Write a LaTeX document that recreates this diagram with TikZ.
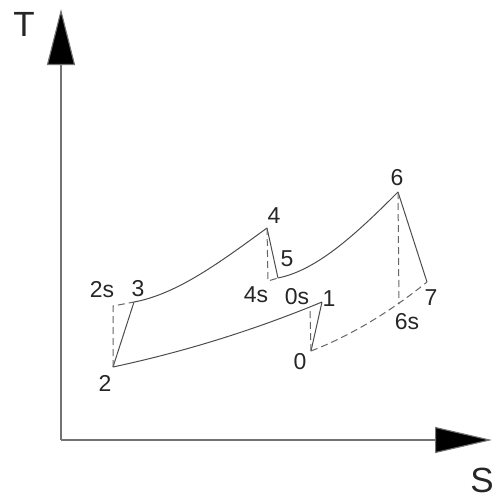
\documentclass[tikz,border=0pt]{standalone}
\usepackage{fontspec}
\setmainfont{Liberation Sans}
\usetikzlibrary{arrows.meta}
\begin{document}
\begin{tikzpicture}[x=1pt,y=-1pt,
  axis/.style={draw=black!55,line width=1.1pt},
  cyc/.style={draw=black!70,line width=1pt},
  dsh/.style={draw=black!60,line width=1pt,dash pattern=on 7pt off 4pt},
  lbl/.style={inner sep=0pt,font=\fontsize{23}{23}\selectfont,text=black!85},
  big/.style={inner sep=0pt,font=\fontsize{35}{35}\selectfont,text=black!85}]
\useasboundingbox (0,0) rectangle (493,501);
% axes
\coordinate (O) at (61,440);
\coordinate (Ttip) at (61,9);
\coordinate (Stip) at (492,440);
\draw[axis,-{Triangle[length=56pt,width=28pt,fill=black]}] (O) -- (Ttip);
\draw[axis,-{Triangle[length=57pt,width=26pt,fill=black]}] (O) -- (Stip);
\node[big] (Tl) at (24,24) {T};
\node[big] (Sl) at (482,480) {S};
% state points
\coordinate (p2) at (113,367);
\coordinate (p2s) at (113,306);
\coordinate (p3) at (134,302);
\coordinate (p4) at (267,228);
\coordinate (p4s) at (268,281);
\coordinate (p5) at (278,278);
\coordinate (p6) at (398,192);
\coordinate (p7) at (427,282);
\coordinate (p6s) at (399,304);
\coordinate (p1) at (322,302);
\coordinate (p0s) at (310,307);
\coordinate (p0) at (311,351);
% solid lines
\draw[cyc] (p2) .. controls (183,352) and (252,331) .. (p1);
\draw[cyc] (p3) .. controls (178,294) and (223,260) .. (p4);
\draw[cyc] (p5) .. controls (318,270) and (358,232) .. (p6);
\draw[cyc] (p2) -- (p3);
\draw[cyc] (p4) -- (p5);
\draw[cyc] (p6) -- (p7);
\draw[cyc] (p0) -- (p1);
% dashed lines
\draw[dsh] (p2) -- (p2s) -- (p3);
\draw[dsh] (p4) -- (p4s) -- (p5);
\draw[dsh] (p6) -- (p6s);
\draw[dsh] (p0) -- (p0s);
\draw[dsh] (p0) .. controls (350,336) and (390,312) .. (p7);
% labels
\node[lbl] (l2) at (105,383) {2};
\node[lbl] (l2s) at (102,290) {2s};
\node[lbl] (l3) at (138,289) {3};
\node[lbl] (l4) at (274,216) {4};
\node[lbl] (l5) at (287,259) {5};
\node[lbl] (l4s) at (256,295) {4s};
\node[lbl] (l0s) at (297,297) {0s};
\node[lbl] (l1) at (329,299) {1};
\node[lbl] (l0) at (300,362) {0};
\node[lbl] (l6) at (397,178) {6};
\node[lbl] (l7) at (431,298) {7};
\node[lbl] (l6s) at (407,322) {6s};
\end{tikzpicture}
\end{document}
